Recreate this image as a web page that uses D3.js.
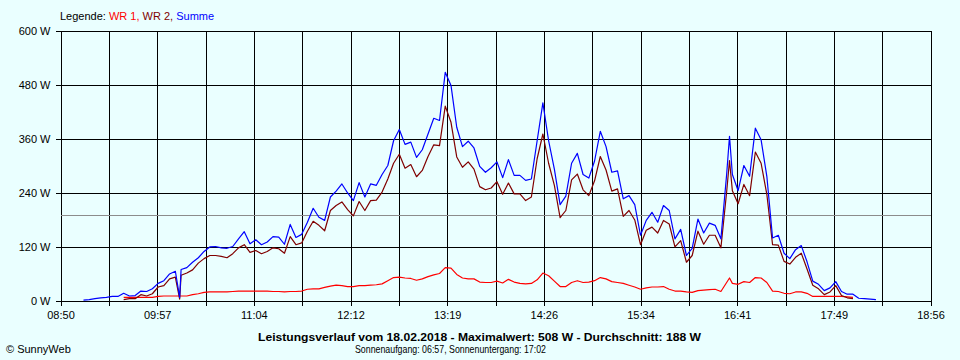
<!DOCTYPE html>
<html><head><meta charset="utf-8">
<script src="https://cdn.jsdelivr.net/npm/d3@7"></script>
<style>
html,body{margin:0;padding:0;background:#eaffff;}
svg{display:block;}
text{font-family:"Liberation Sans",Arial,sans-serif;}
</style></head><body>
<svg id="chart" width="960" height="360"></svg>
<script>
const times = ["09:06","09:10","09:14","09:18","09:22","09:26","09:30","09:34","09:38","09:42","09:46","09:50","09:54","09:58",
"10:02","10:06","10:10","10:13","10:14","10:18","10:22","10:26","10:30","10:34","10:38","10:42","10:46","10:50","10:54","10:58",
"11:02","11:06","11:10","11:14","11:18","11:22","11:26","11:30","11:34","11:38","11:42","11:46","11:50","11:54","11:58",
"12:02","12:06","12:10","12:14","12:18","12:22","12:26","12:30","12:34","12:38","12:42","12:46","12:50","12:54","12:58",
"13:02","13:06","13:10","13:14","13:18","13:22","13:26","13:30","13:34","13:38","13:42","13:46","13:50","13:54","13:58",
"14:02","14:06","14:10","14:14","14:18","14:22","14:26","14:30","14:34","14:38","14:42","14:46","14:50","14:54","14:58",
"15:02","15:06","15:10","15:14","15:18","15:22","15:26","15:30","15:34","15:38","15:42","15:46","15:50","15:54","15:58",
"16:02","16:06","16:10","16:14","16:18","16:22","16:26","16:30","16:34","16:36","16:38","16:42","16:46","16:50","16:54","16:58",
"17:02","17:06","17:10","17:14","17:18","17:22","17:26","17:30","17:34","17:38","17:42","17:46","17:50","17:54","17:58",
"18:02","18:06","18:10","18:14","18:18"];

const summe = [1,2,4,6,7,9,9,16,10,11,21,20,26,38,
44,59,65,7,69,73,85,95,109,119,120,117,116,120,137,153,
126,135,124,130,142,141,125,169,140,147,174,205,185,178,230,
243,259,239,222,262,230,259,256,280,300,355,380,347,352,318,
335,370,405,400,507,478,385,342,354,339,298,285,295,308,273,
313,278,278,267,270,355,439,355,292,213,232,305,327,280,272,
310,376,342,285,288,226,233,213,145,178,196,174,211,200,137,
158,100,116,181,150,172,167,137,280,365,280,244,300,276,383,357,
276,139,145,105,93,113,122,86,43,36,22,28,42,20,14,
14,5,4,3,2];

const wr2 = [null,null,null,null,null,null,null,2,4,4,13,10,15,30,
33,48,52,3,56,61,68,83,93,100,100,98,95,104,117,124,
107,111,104,109,117,115,105,142,124,128,154,176,167,155,200,
211,219,202,188,220,200,222,223,241,270,305,325,294,302,275,
289,320,346,344,432,396,319,296,308,292,253,246,250,264,236,
261,237,237,222,230,315,370,305,256,184,200,268,281,246,233,
266,320,290,243,248,187,200,179,124,156,163,150,178,170,119,
133,85,100,154,125,145,145,117,241,311,244,215,258,233,330,305,
236,124,123,87,81,96,105,70,34,26,13,19,33,11,6,
4,null,null,null,null];

const wr1 = [null,null,null,null,null,null,null,7,7,7,7,7,7,9,
10,10,10,10,10,10,13,15,18,19,19,19,19,20,21,21,
21,21,21,21,20,20,19,20,20,21,25,26,26,29,32,
34,33,31,31,33,33,34,35,37,44,51,52,50,49,45,
48,53,57,60,73,72,58,50,48,48,41,40,40,43,39,
47,41,38,37,38,46,61,55,43,31,31,40,44,40,41,
44,51,48,42,40,38,34,30,25,28,30,30,31,25,21,
21,19,18,22,23,24,25,20,40,50,38,36,42,40,51,50,
40,21,20,16,15,19,19,16,9,9,9,9,9,9,8,
7,null,null,null,null];

const yTicks = [0,120,240,360,480,600];
const xTickLabels = ["08:50","09:57","11:04","12:12","13:19","14:26","15:34","16:41","17:49","18:56"];
const averageW = 188;
const legendLabels = ["WR 1","WR 2","Summe"];
const seriesColors = ["#ff0000","#800000","#0000ff"];
const titleText = "Leistungsverlauf vom 18.02.2018 - Maximalwert: 508 W - Durchschnitt: 188 W";
const subtitleText = "Sonnenaufgang: 06:57, Sonnenuntergang: 17:02";
const creditText = "\u00A9 SunnyWeb";

const toMin = s => { const [h,m] = s.split(":").map(Number); return h*60+m; };
const tStart = toMin(xTickLabels[0]), tEnd = toMin(xTickLabels[xTickLabels.length-1]);

const svg = d3.select("#chart");
const L = 60, R = 930, T = 30, B = 300;
const x = d3.scaleLinear().domain([tStart, tEnd]).range([L, R]);
const y = d3.scaleLinear().domain([0, 600]).range([B, T]);

const g = svg.append("g").attr("transform","translate(0.5,0.5)");

const nInt = (xTickLabels.length-1)*2;
const xTickVals = d3.range(nInt+1).map(k => tStart + k*(tEnd-tStart)/nInt);
const xAxis = d3.axisBottom(x).tickValues(xTickVals).tickSize(5).tickPadding(6)
  .tickFormat((d,i) => i%2===0 ? xTickLabels[i/2] : "");
const xg = g.append("g").attr("transform",`translate(0,${B})`).call(xAxis);
xg.select(".domain").remove();
xg.selectAll("line").attr("stroke","#000").attr("shape-rendering","crispEdges");
xg.selectAll("text").attr("font-size","11px").attr("fill","#000").attr("font-family","Liberation Sans, Arial, sans-serif");
const xgrid = g.append("g").attr("transform",`translate(0,${B})`)
  .call(d3.axisBottom(x).tickValues(xTickVals).tickSize(-(B-T)).tickFormat(""));
xgrid.select(".domain").remove();
xgrid.selectAll("line").attr("stroke","#000").attr("shape-rendering","crispEdges");

const yAxis = d3.axisLeft(y).tickValues(yTicks).tickSize(5).tickPadding(5).tickFormat(d => d + " W");
const yg = g.append("g").attr("transform",`translate(${L},0)`).call(yAxis);
yg.select(".domain").remove();
yg.selectAll("line").attr("stroke","#000").attr("shape-rendering","crispEdges");
yg.selectAll("text").attr("font-size","11px").attr("fill","#000").attr("font-family","Liberation Sans, Arial, sans-serif");
const ygrid = g.append("g").attr("transform",`translate(${L},0)`)
  .call(d3.axisLeft(y).tickValues(yTicks).tickSize(-(R-L)).tickFormat(""));
ygrid.select(".domain").remove();
ygrid.selectAll("line").attr("stroke","#000").attr("shape-rendering","crispEdges");

g.append("line").attr("x1",x(tStart)).attr("x2",x(tEnd)).attr("y1",y(averageW)).attr("y2",y(averageW))
  .attr("stroke","#8c8c8c").attr("shape-rendering","crispEdges");

const tm = times.map(toMin);
const series = [wr1, wr2, summe];
series.forEach((vals, si) => {
  const pts = tm.map((t,i) => [t, vals[i]]);
  const line = d3.line().defined(d => d[1] !== null).x(d => x(d[0])).y(d => y(d[1]));
  g.append("path").datum(pts).attr("d", line).attr("fill","none")
    .attr("stroke", seriesColors[si]).attr("stroke-width",1.2).attr("stroke-linejoin","round");
});

const leg = svg.append("text").attr("x",60).attr("y",20).attr("font-size","11px");
leg.append("tspan").attr("fill","#000").text("Legende: ");
legendLabels.forEach((lab,i) => {
  leg.append("tspan").attr("fill",seriesColors[i]).text(lab + (i < legendLabels.length-1 ? ", " : ""));
});

svg.append("text").attr("x",258).attr("y",341)
  .attr("font-size","11.5px").attr("font-weight","bold").attr("fill","#000")
  .attr("textLength",443).attr("lengthAdjust","spacingAndGlyphs").text(titleText);
svg.append("text").attr("x",355).attr("y",353)
  .attr("font-size","11px").attr("fill","#000")
  .attr("textLength",191).attr("lengthAdjust","spacingAndGlyphs").text(subtitleText);
svg.append("text").attr("x",6).attr("y",353)
  .attr("font-size","11px").attr("fill","#000").text(creditText);
</script></body></html>
